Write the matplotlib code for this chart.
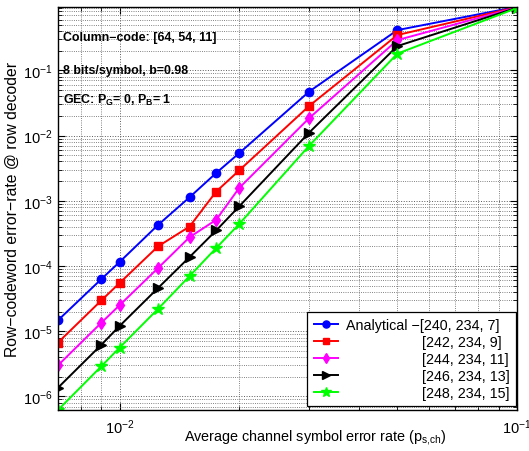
import matplotlib
matplotlib.use("Agg")
import matplotlib.pyplot as plt
from matplotlib.ticker import LogLocator, NullFormatter
from matplotlib.textpath import TextPath
from matplotlib.font_manager import FontProperties

plt.rcParams['font.family'] = ['Liberation Sans', 'DejaVu Sans']
plt.rcParams['mathtext.fontset'] = 'custom'
plt.rcParams['mathtext.rm'] = 'Liberation Sans'
plt.rcParams['mathtext.it'] = 'Liberation Sans:italic'
plt.rcParams['mathtext.bf'] = 'Liberation Sans:bold'

# channel symbol error rate
p_ch = [0.007, 0.009, 0.01, 0.0125, 0.015, 0.0175, 0.02, 0.03, 0.05, 0.1]

# row-codeword error rate for each row code
rs_240 = [1.47e-5, 6.3e-5, 1.15e-4, 4.26e-4, 1.13e-3, 2.66e-3, 5.37e-3, 0.0472, 0.413, 0.94]
rs_242 = [6.7e-6, 2.97e-5, 5.47e-5, 2.0e-4, 4.02e-4, 1.38e-3, 2.92e-3, 0.0284, 0.347, 0.93]
rs_244 = [3.0e-6, 1.35e-5, 2.5e-5, 9.3e-5, 2.76e-4, 5.1e-4, 1.57e-3, 0.0185, 0.29, 0.92]
rs_246 = [1.36e-6, 6.2e-6, 1.2e-5, 4.6e-5, 1.37e-4, 3.5e-4, 8.2e-4, 0.0111, 0.235, 0.91]
rs_248 = [6.2e-7, 2.9e-6, 5.6e-6, 2.2e-5, 7.0e-5, 1.88e-4, 4.4e-4, 6.97e-3, 0.18, 0.90]

codes = ['[240, 234, 7]', '[242, 234, 9]', '[244, 234, 11]',
         '[246, 234, 13]', '[248, 234, 15]']
prefix = 'Analytical \u2212'

# pad the other labels with spaces so the code brackets line up
fp = FontProperties(family='Liberation Sans', size=10)
w_pre = TextPath((0, 0), prefix + 'x', prop=fp).get_extents().width - \
    TextPath((0, 0), 'x', prop=fp).get_extents().width
w_sp = (TextPath((0, 0), 'x' + ' ' * 10 + 'x', prop=fp).get_extents().width -
        TextPath((0, 0), 'xx', prop=fp).get_extents().width) / 10
pad = ' ' * int(round(w_pre / w_sp))
labels = [prefix + codes[0]] + [pad + c for c in codes[1:]]

series = [rs_240, rs_242, rs_244, rs_246, rs_248]
colors = ['#0000ff', '#ff0000', '#ff00ff', '#000000', '#00ff00']
markers = ['o', 's', 'd', '>', '*']
msizes = [6, 5.5, 6.5, 7, 9]

fig = plt.figure(figsize=(5.29, 4.52), dpi=100)
ax = fig.add_axes([0.1096, 0.0907, 0.8677, 0.8927])

for ys, lab, c, m, ms in zip(series, labels, colors, markers, msizes):
    ax.loglog(p_ch, ys, color=c, marker=m, markersize=ms, lw=1.4,
              markerfacecolor=c, markeredgecolor=c, label=lab)

ax.set_xlim(0.007, 0.1)
ax.set_ylim(6.2e-7, 0.95)

ax.xaxis.set_major_locator(LogLocator(base=10, numticks=10))
ax.xaxis.set_minor_locator(LogLocator(base=10, subs=range(2, 10), numticks=20))
ax.xaxis.set_minor_formatter(NullFormatter())
ax.yaxis.set_minor_formatter(NullFormatter())

ax.grid(True, which='major', linestyle=':', color='0.35', lw=0.7)
ax.grid(True, which='minor', linestyle=':', color='0.35', lw=0.6)
ax.tick_params(which='both', direction='in', top=True, right=True, labelsize=10.5)
ax.tick_params(which='major', length=5)
ax.tick_params(which='minor', length=3)
ax.tick_params(axis='x', which='major', pad=5)
ax.tick_params(axis='y', which='major', pad=4)
for s in ax.spines.values():
    s.set_linewidth(1.0)

ax.set_xlabel(r'Average channel symbol error rate (p$_{\mathrm{s{,}ch}}$)', fontsize=10.4)
ax.xaxis.set_label_coords(0.56, -0.042)
ax.set_ylabel('Row\u2212codeword error\u2212rate @ row decoder', fontsize=11.3)
ax.yaxis.set_label_coords(-0.083, 0.5)

txt = dict(transform=ax.transAxes, fontsize=8.9, fontweight='bold', va='center', ha='left')
ax.text(0.011, 0.925, 'Column\u2212code: [64, 54, 11]', **txt)
ax.text(0.011, 0.842, '8 bits/symbol, b=0.98', **txt)
ax.text(0.011, 0.770, r'GEC: P$_{\mathbf{G}}$= 0, P$_{\mathbf{B}}$= 1', **txt)

leg = ax.legend(loc='lower right', bbox_to_anchor=(0.998, 0.01), fontsize=10.3,
                fancybox=False, framealpha=1, edgecolor='black', borderaxespad=0,
                handlelength=1.7, handletextpad=0.55, labelspacing=0.2,
                borderpad=0.45, markerscale=0.85)
leg.get_frame().set_linewidth(0.9)

fig.savefig('out.png', dpi=100)
